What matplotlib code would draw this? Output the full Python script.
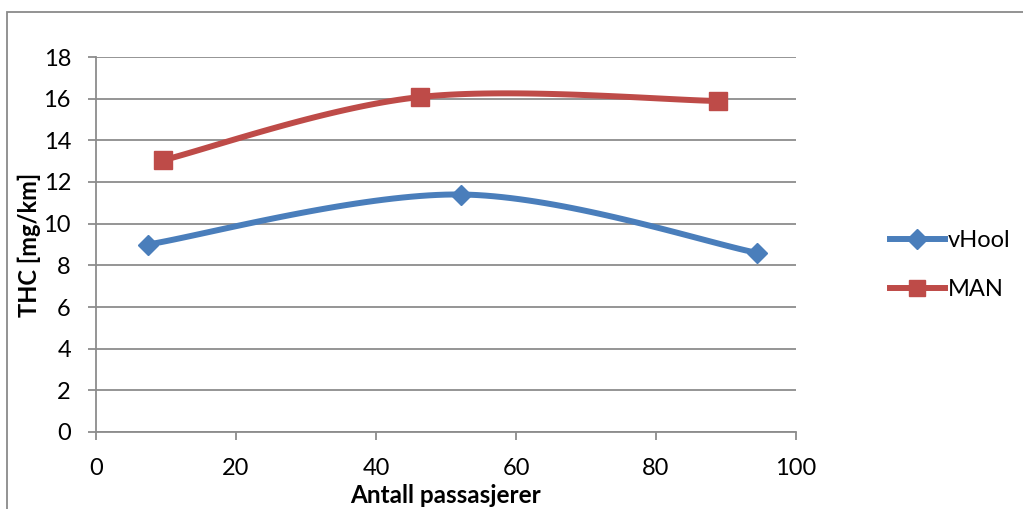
import matplotlib
matplotlib.use("Agg")
import matplotlib.pyplot as plt
from matplotlib.patches import Rectangle
from matplotlib.lines import Line2D
import numpy as np

# data
vhool_x = [7.4, 52.2, 94.4]
vhool_y = [9.0, 11.4, 8.6]
man_x = [9.6, 46.3, 88.8]
man_y = [13.05, 16.08, 15.89]
series_names = ["vHool", "MAN"]

blue = "#4A7EBB"
red = "#BE4B48"
grid_c = "#8C8C8C"

plt.rcParams['font.family'] = ['Lato', 'DejaVu Sans']

fig = plt.figure(figsize=(10.23, 5.09), dpi=100)
ax = fig.add_axes([96/1023, 1-432/509, 700/1023, 375/509])
ax.set_xlim(0, 100)
ax.set_ylim(0, 18)


def smooth(ax, xs, ys, n=40):
    # excel style bezier smoothing, done in screen coords
    pts = ax.transData.transform(np.column_stack([xs, ys]))
    p = np.vstack([pts[0], pts, pts[-1]])
    out = []
    t = np.linspace(0, 1, n)[:, None]
    for i in range(1, len(p) - 2):
        p0, p1 = p[i], p[i+1]
        c1 = p0 + (p[i+1] - p[i-1]) / 6
        c2 = p1 - (p[i+2] - p[i]) / 6
        seg = (1-t)**3*p0 + 3*(1-t)**2*t*c1 + 3*(1-t)*t**2*c2 + t**3*p1
        out.append(seg)
    curve = ax.transData.inverted().transform(np.vstack(out))
    return curve[:, 0], curve[:, 1]


for xs, ys, c, m, ms in [(vhool_x, vhool_y, blue, 'D', 10.5), (man_x, man_y, red, 's', 13.5)]:
    cx, cy = smooth(ax, xs, ys)
    ax.plot(cx, cy, color=c, lw=4.3, solid_capstyle='round', zorder=3)
    ax.plot(xs, ys, ls='none', marker=m, ms=ms, color=c, zorder=4)

ax.set_yticks(range(0, 19, 2))
ax.set_xticks(range(0, 101, 20))
ax.grid(axis='y', color=grid_c, lw=1.3)
ax.set_axisbelow(True)
for s in ['top', 'right']:
    ax.spines[s].set_visible(False)
for s in ['left', 'bottom']:
    ax.spines[s].set_color(grid_c)
    ax.spines[s].set_linewidth(1.3)
ax.tick_params(direction='out', length=6, width=1.3, color=grid_c, labelsize=17)
ax.tick_params(axis='x', pad=13)
ax.tick_params(axis='y', pad=12)

ax.set_xlabel("Antall passasjerer", fontsize=17.5, fontweight='bold', labelpad=3)
ax.set_ylabel("THC [mg/km]", fontsize=17, fontweight='bold', labelpad=2)

handles = [Line2D([], [], color=blue, lw=4.3, marker='D', ms=10),
           Line2D([], [], color=red, lw=4.3, marker='s', ms=12)]
fig.legend(handles, series_names, loc='center left', bbox_to_anchor=(869/1023, 1-265/509),
           frameon=False, fontsize=17, handlelength=2.3, handletextpad=0.15, labelspacing=1.2)

fig.add_artist(Rectangle((7/1023, -0.05), 1.1, 1.05-12/509, transform=fig.transFigure,
                         fill=False, edgecolor="#8A8A8A", lw=1.3))

fig.savefig("out.png", dpi=100)
